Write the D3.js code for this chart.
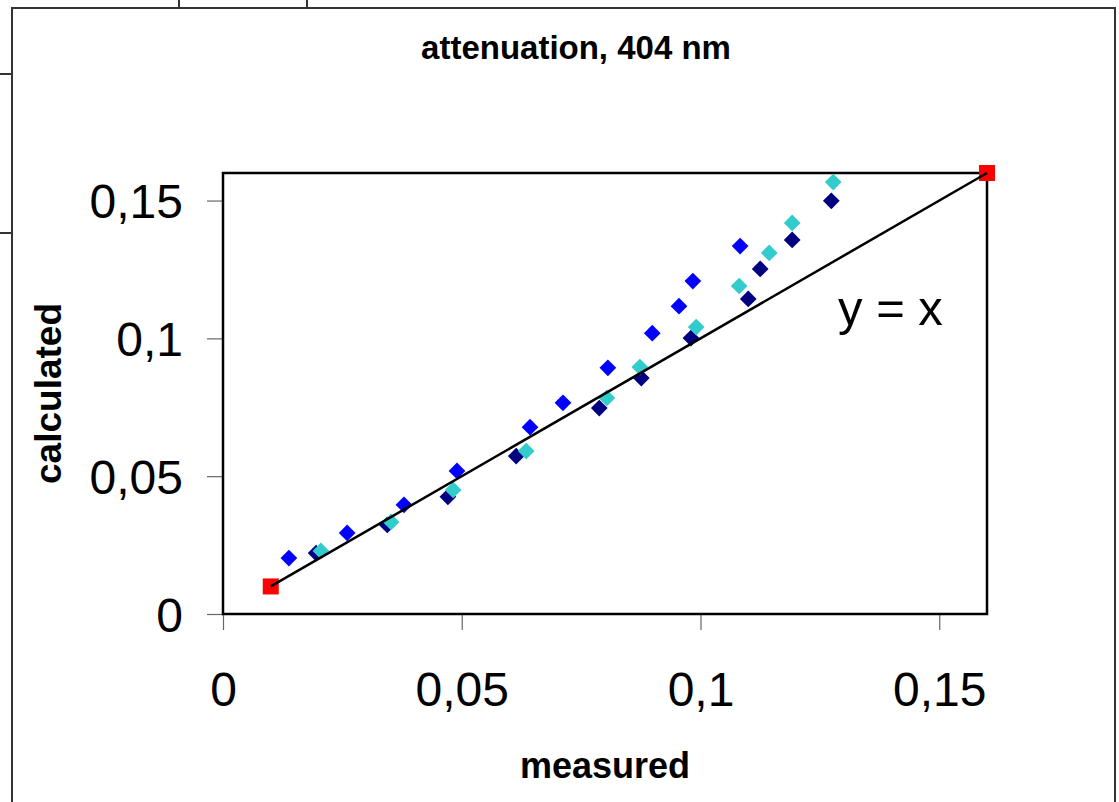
<!DOCTYPE html>
<html>
<head>
<meta charset="utf-8">
<script src="https://cdn.jsdelivr.net/npm/d3@7"></script>
<style>
    html, body { margin: 0; padding: 0; background: #fff; }
    svg { display: block; }
    text { font-family: Arial, 'Liberation Sans', sans-serif; fill: #000; }
</style>
</head>
<body>
<div id="chart"></div>
<script>
(function() {
    'use strict';

    // measured / calculated pairs, three series
    var blueMeasured = [0.0138, 0.0260, 0.0379, 0.0490, 0.0643, 0.0712, 0.0806, 0.0899, 0.0955, 0.0984, 0.1083];
    var blueCalculated = [0.0203, 0.0294, 0.0396, 0.0519, 0.0678, 0.0766, 0.0893, 0.1019, 0.1117, 0.1208, 0.1335];

    var navyMeasured = [0.0195, 0.0344, 0.0471, 0.0614, 0.0788, 0.0876, 0.0980, 0.1100, 0.1125, 0.1192, 0.1274];
    var navyCalculated = [0.0221, 0.0323, 0.0425, 0.0573, 0.0747, 0.0856, 0.1001, 0.1143, 0.1252, 0.1357, 0.1499];

    var cyanMeasured = [0.0205, 0.0352, 0.0482, 0.0635, 0.0804, 0.0873, 0.0991, 0.1081, 0.1144, 0.1192, 0.1278];
    var cyanCalculated = [0.0229, 0.0334, 0.0450, 0.0591, 0.0784, 0.0896, 0.1041, 0.1190, 0.1310, 0.1419, 0.1567];

    // y = x reference line end points
    var refLine = [0.01, 0.16];

    var xTicks = [0, 0.05, 0.1, 0.15];
    var yTicks = [0, 0.05, 0.1, 0.15];

    var width = 1119, height = 802;
    var fmt = function(v) { return String(v).replace('.', ','); };

    var svg = d3.select('#chart').append('svg')
        .attr('width', width)
        .attr('height', height);

    // outer chart frame + cropped neighbouring cells
    var frame = svg.append('g')
        .attr('stroke', '#333')
        .attr('stroke-width', 2)
        .attr('fill', 'none');
    frame.append('rect').attr('x', 12).attr('y', 8).attr('width', 1103).attr('height', 820);
    frame.append('line').attr('x1', 179).attr('x2', 179).attr('y1', 0).attr('y2', 8);
    frame.append('line').attr('x1', 307).attr('x2', 307).attr('y1', 0).attr('y2', 8);
    frame.append('line').attr('x1', 0).attr('x2', 12).attr('y1', 74).attr('y2', 74);
    frame.append('line').attr('x1', 0).attr('x2', 12).attr('y1', 233).attr('y2', 233);

    var x = d3.scaleLinear().domain([0, 0.16]).range([223, 987]);
    var y = d3.scaleLinear().domain([0, 0.16]).range([614, 173]);

    // title
    svg.append('text')
        .attr('x', 576)
        .attr('y', 59)
        .attr('text-anchor', 'middle')
        .attr('font-weight', 'bold')
        .attr('font-size', 33)
        .text('attenuation, 404 nm');

    // axes
    var xAxis = svg.append('g')
        .attr('transform', 'translate(0,' + y(0) + ')')
        .call(d3.axisBottom(x).tickValues(xTicks).tickSize(16).tickPadding(42).tickFormat(fmt));
    var yAxis = svg.append('g')
        .attr('transform', 'translate(' + x(0) + ',0)')
        .call(d3.axisLeft(y).tickValues(yTicks).tickSize(16).tickPadding(24).tickFormat(fmt));

    [xAxis, yAxis].forEach(function(a) {
        a.select('.domain').remove();
        a.selectAll('.tick line').attr('stroke', '#666').attr('stroke-width', 1.2);
        a.selectAll('.tick text')
            .attr('font-size', 48)
            .attr('font-family', "Arial, 'Liberation Sans', sans-serif")
            .attr('fill', '#000');
    });
    yAxis.selectAll('.tick text').attr('dy', '0.36em');

    // plot border
    svg.append('rect')
        .attr('x', x(0))
        .attr('y', y(0.16))
        .attr('width', x(0.16) - x(0))
        .attr('height', y(0) - y(0.16))
        .attr('fill', 'none')
        .attr('stroke', '#000')
        .attr('stroke-width', 2.5);

    // axis titles
    svg.append('text')
        .attr('x', (x(0) + x(0.16)) / 2)
        .attr('y', 778)
        .attr('text-anchor', 'middle')
        .attr('font-weight', 'bold')
        .attr('font-size', 36)
        .text('measured');

    svg.append('text')
        .attr('transform', 'translate(61,' + ((y(0) + y(0.16)) / 2) + ') rotate(-90)')
        .attr('text-anchor', 'middle')
        .attr('font-weight', 'bold')
        .attr('font-size', 37)
        .text('calculated');

    var plot = svg.append('g');

    // reference end points (red squares)
    plot.selectAll('.ref')
        .data(refLine)
        .join('rect')
        .attr('class', 'ref')
        .attr('x', function(d) { return x(d) - 8; })
        .attr('y', function(d) { return y(d) - 8; })
        .attr('width', 16)
        .attr('height', 16)
        .attr('fill', '#ff0000');

    var diamond = d3.symbol().type(d3.symbolSquare).size(140);

    function drawSeries(mx, cy, color) {
        plot.append('g').selectAll('path')
            .data(d3.zip(mx, cy))
            .join('path')
            .attr('d', diamond)
            .attr('transform', function(d) {
                return 'translate(' + x(d[0]) + ',' + y(d[1]) + ') rotate(45)';
            })
            .attr('fill', color);
    }

    drawSeries(navyMeasured, navyCalculated, '#000080');
    drawSeries(blueMeasured, blueCalculated, '#0000ff');
    drawSeries(cyanMeasured, cyanCalculated, '#33cccc');

    // y = x line
    plot.append('line')
        .attr('x1', x(refLine[0]))
        .attr('y1', y(refLine[0]))
        .attr('x2', x(refLine[1]))
        .attr('y2', y(refLine[1]))
        .attr('stroke', '#000')
        .attr('stroke-width', 2.5);

    plot.append('text')
        .attr('x', x(0.1288))
        .attr('y', y(0.1049))
        .attr('font-size', 49)
        .text('y = x');
})();
</script>
</body>
</html>
